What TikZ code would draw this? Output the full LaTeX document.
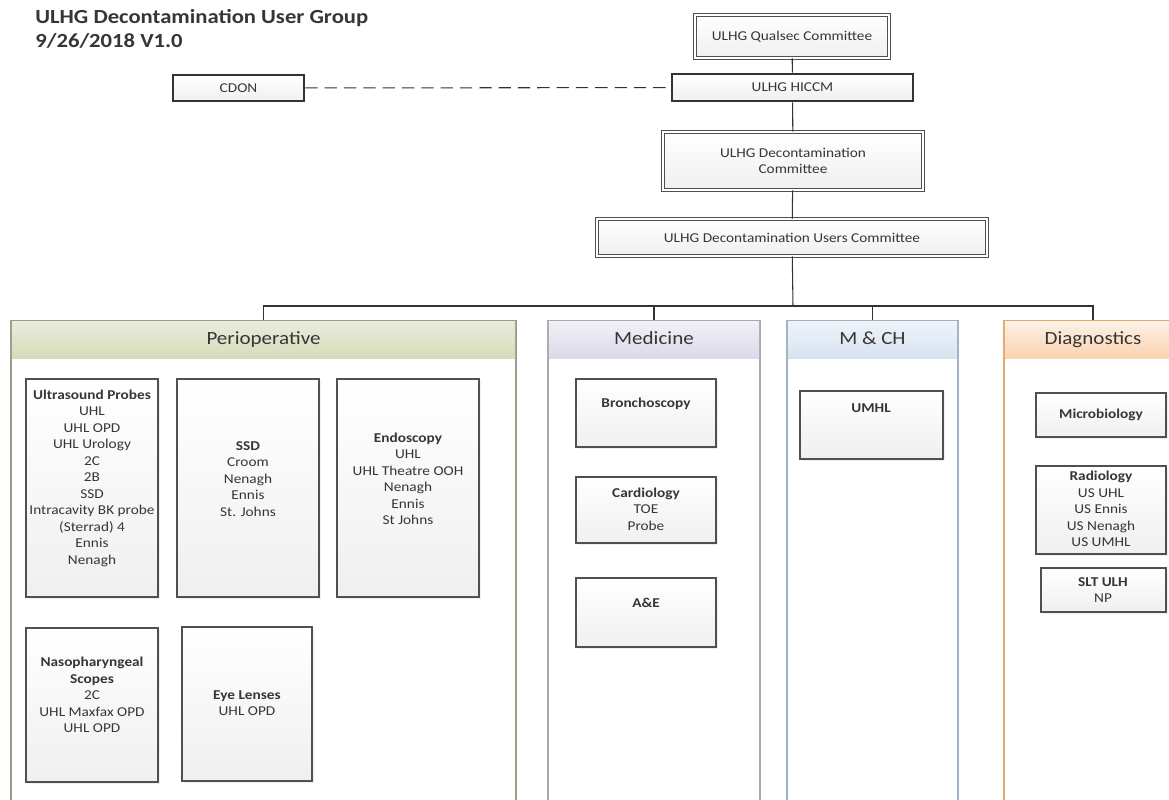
\documentclass[tikz,border=0pt]{standalone}
\usepackage{fontspec}
\setmainfont{Carlito}[FakeStretch=1.13]
\usetikzlibrary{fit,shadows}

\definecolor{inktext}{HTML}{363636}
\definecolor{boxline}{HTML}{505050}
\definecolor{perioline}{HTML}{9C9C88}
\definecolor{perioA}{HTML}{E9ECDD}
\definecolor{perioB}{HTML}{D5DCB8}
\definecolor{medline}{HTML}{A8A8B0}
\definecolor{medA}{HTML}{F1F0F6}
\definecolor{medB}{HTML}{DCD9E9}
\definecolor{mchline}{HTML}{9FB0C4}
\definecolor{mchA}{HTML}{EFF3F9}
\definecolor{mchB}{HTML}{D7E3F1}
\definecolor{diagline}{HTML}{E9A66A}
\definecolor{diagA}{HTML}{FDF1E6}
\definecolor{diagB}{HTML}{F9D3AE}

\begin{document}
\begin{tikzpicture}[x=0.02cm,y=-0.02cm,
    every node/.style={text=inktext},
    topbox/.style={draw=boxline, line width=0.5pt, double, double distance=1.3pt,
      top color=white, bottom color=black!6, inner sep=0pt},
    keybox/.style={draw=black!80, line width=1.5pt, top color=white,
      bottom color=black!6, inner sep=0pt},
    boxtext/.style={align=center, inner sep=0pt, font=\fontsize{7.7}{9.4}\selectfont},
    unitbox/.style={draw=boxline, line width=0.8pt, top color=white,
      bottom color=black!6, inner sep=0pt,
      drop shadow={opacity=0.12, shadow xshift=1.2pt, shadow yshift=-1.2pt}},
    unittext/.style={align=center, inner sep=0pt, font=\fontsize{7.7}{9.4}\selectfont},
    panel/.style={draw=#1, line width=0.9pt, fill=white, inner sep=0pt},
    panelhead/.style 2 args={top color=#1, bottom color=#2, inner sep=0pt},
    headtext/.style={inner sep=0pt, text height=0.72em, text depth=0.22em,
      font=\fontsize{10.6}{12}\selectfont},
    spine/.style={draw=black!80, line width=0.6pt}]

  \clip (0,0) rectangle (1169,800);
  \fill[white] (0,0) rectangle (1169,800);

  % Title
  \node (title) [anchor=north west, align=left, inner sep=0pt,
    font=\fontsize{11.4}{13.8}\selectfont\bfseries] at (35,9)
    {ULHG Decontamination User Group\\9/26/2018 V1.0};

  % Committees
  \node (qual) [topbox, fit={(695,15) (889,58)}] {};
  \node (qual-t) [boxtext] at (qual.center) {ULHG Qualsec Committee};
  \node (hiccm) [keybox, fit={(672,74) (913,101)}] {};
  \node (hiccm-t) [boxtext] at (hiccm.center) {ULHG HICCM};
  \node (cdon) [keybox, fit={(173,75) (304,101)}] {};
  \node (cdon-t) [boxtext] at (cdon.center) {CDON};
  \node (dcom) [topbox, fit={(663,132) (923,190)}] {};
  \node (dcom-t) [boxtext] at (dcom.center) {ULHG Decontamination\\Committee};
  \node (ucom) [topbox, fit={(597,219) (987,256)}] {};
  \node (ucom-t) [boxtext] at (ucom.center) {ULHG Decontamination Users Committee};

  \draw[spine] (qual) -- (hiccm);
  \draw[spine] (hiccm) -- (dcom);
  \draw[spine] (dcom) -- (ucom);
  \draw[spine, dashed, dash pattern=on 7pt off 4pt] (cdon) -- (hiccm);

  % Directorates
  \node (periop) [panel=perioline, fit={(11,321) (516,806)}] {};
  \node (periop-h) [panelhead={perioA}{perioB}, fit={(11.8,321.8) (515.2,358)}] {};
  \node (periop-t) [headtext] at (periop-h.center) {Perioperative};
  \node (med) [panel=medline, fit={(548,321) (760,806)}] {};
  \node (med-h) [panelhead={medA}{medB}, fit={(548.8,321.8) (759.2,358)}] {};
  \node (med-t) [headtext] at (med-h.center) {Medicine};
  \node (mch) [panel=mchline, fit={(787,321) (958,806)}] {};
  \node (mch-h) [panelhead={mchA}{mchB}, fit={(787.8,321.8) (957.2,358)}] {};
  \node (mch-t) [headtext] at (mch-h.center) {M \& CH};
  \node (diag) [panel=diagline, fit={(1004,321) (1182,806)}] {};
  \node (diag-h) [panelhead={diagA}{diagB}, fit={(1004.8,321.8) (1181.2,358)}] {};
  \node (diag-t) [headtext] at (diag-h.center) {Diagnostics};

  \coordinate (bus) at (793,306);
  \draw[spine] (ucom) -- (bus);
  \draw[spine] (bus) -| (periop.north);
  \draw[spine] (bus) -| (med.north);
  \draw[spine] (bus) -| (mch.north);
  \draw[spine] (bus) -| (diag.north);

  % Perioperative
  \node (usp) [unitbox, fit={(26,379) (158,597)}] {};
  \node (usp-t) [unittext] at (92,478)
    {\textbf{Ultrasound Probes}\\UHL\\UHL OPD\\UHL Urology\\2C\\2B\\SSD\\Intracavity BK probe\\(Sterrad) 4\\Ennis\\Nenagh};
  \node (ssd) [unitbox, fit={(177,379) (319,597)}] {};
  \node (ssd-t) [unittext] at (248,479)
    {\textbf{SSD}\\Croom\\Nenagh\\Ennis\\St. Johns};
  \node (endo) [unitbox, fit={(337,379) (479,597)}] {};
  \node (endo-t) [unittext] at (408,479)
    {\textbf{Endoscopy}\\UHL\\UHL Theatre OOH\\Nenagh\\Ennis\\St Johns};
  \node (naso) [unitbox, fit={(26,628) (158,782)}] {};
  \node (naso-t) [unittext] at (92,695)
    {\textbf{Nasopharyngeal}\\\textbf{Scopes}\\2C\\UHL Maxfax OPD\\UHL OPD};
  \node (eye) [unitbox, fit={(182,627) (312,781)}] {};
  \node (eye-t) [unittext] at (247,703) {\textbf{Eye Lenses}\\UHL OPD};

  % Medicine
  \node (bron) [unitbox, fit={(576,379) (716,447)}] {};
  \node (bron-t) [unittext] at (646,404) {\textbf{Bronchoscopy}};
  \node (card) [unitbox, fit={(576,477) (716,543)}] {};
  \node (card-t) [unittext] at (646,509) {\textbf{Cardiology}\\TOE\\Probe};
  \node (ae) [unitbox, fit={(576,578) (716,647)}] {};
  \node (ae-t) [unittext] at (646,603) {\textbf{A\&E}};

  % M & CH
  \node (umhl) [unitbox, fit={(800,391) (943,459)}] {};
  \node (umhl-t) [unittext] at (871,408) {\textbf{UMHL}};

  % Diagnostics
  \node (micro) [unitbox, fit={(1036,393) (1166,437)}] {};
  \node (micro-t) [unittext] at (1101,415) {\textbf{Microbiology}};
  \node (radio) [unitbox, fit={(1036,466) (1166,554)}] {};
  \node (radio-t) [unittext] at (1101,509)
    {\textbf{Radiology}\\US UHL\\US Ennis\\US Nenagh\\US UMHL};
  \node (slt) [unitbox, fit={(1041,568) (1166,612)}] {};
  \node (slt-t) [unittext] at (1103,590) {\textbf{SLT ULH}\\NP};

\end{tikzpicture}
\end{document}
